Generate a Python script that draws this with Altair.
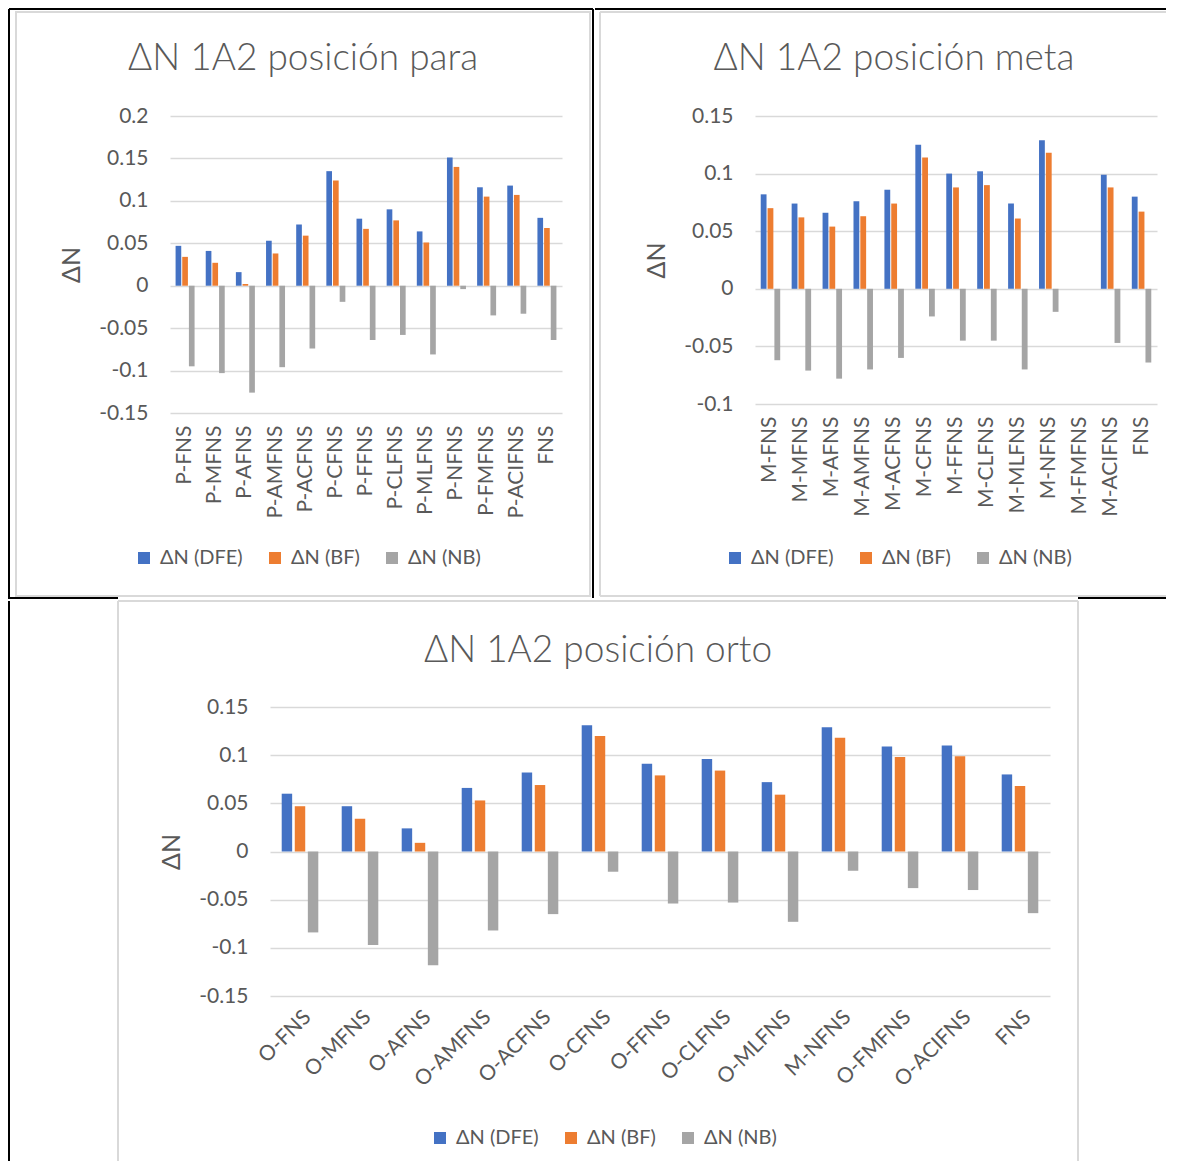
import altair as alt
import pandas as pd

series = ["ΔN (DFE)", "ΔN (BF)", "ΔN (NB)"]
colors = ["#4472C4", "#ED7D31", "#A5A5A5"]

para_cats = ["P-FNS", "P-MFNS", "P-AFNS", "P-AMFNS", "P-ACFNS", "P-CFNS", "P-FFNS",
             "P-CLFNS", "P-MLFNS", "P-NFNS", "P-FMFNS", "P-ACIFNS", "FNS"]
para_dfe = [0.047, 0.041, 0.016, 0.053, 0.072, 0.135, 0.079, 0.090, 0.064, 0.151, 0.116, 0.118, 0.080]
para_bf = [0.034, 0.027, 0.002, 0.038, 0.059, 0.124, 0.067, 0.077, 0.051, 0.140, 0.105, 0.107, 0.068]
para_nb = [-0.095, -0.103, -0.126, -0.096, -0.074, -0.019, -0.064, -0.058, -0.081, -0.004, -0.035, -0.033, -0.064]

meta_cats = ["M-FNS", "M-MFNS", "M-AFNS", "M-AMFNS", "M-ACFNS", "M-CFNS", "M-FFNS",
             "M-CLFNS", "M-MLFNS", "M-NFNS", "M-FMFNS", "M-ACIFNS", "FNS"]
meta_dfe = [0.082, 0.074, 0.066, 0.076, 0.086, 0.125, 0.100, 0.102, 0.074, 0.129, None, 0.099, 0.080]
meta_bf = [0.070, 0.062, 0.054, 0.063, 0.074, 0.114, 0.088, 0.090, 0.061, 0.118, None, 0.088, 0.067]
meta_nb = [-0.062, -0.071, -0.078, -0.070, -0.060, -0.024, -0.045, -0.045, -0.070, -0.020, None, -0.047, -0.064]

orto_cats = ["O-FNS", "O-MFNS", "O-AFNS", "O-AMFNS", "O-ACFNS", "O-CFNS", "O-FFNS",
             "O-CLFNS", "O-MLFNS", "M-NFNS", "O-FMFNS", "O-ACIFNS", "FNS"]
orto_dfe = [0.060, 0.047, 0.024, 0.066, 0.082, 0.131, 0.091, 0.096, 0.072, 0.129, 0.109, 0.110, 0.080]
orto_bf = [0.047, 0.034, 0.009, 0.053, 0.069, 0.120, 0.079, 0.084, 0.059, 0.118, 0.098, 0.099, 0.068]
orto_nb = [-0.084, -0.097, -0.118, -0.082, -0.065, -0.021, -0.054, -0.053, -0.073, -0.020, -0.038, -0.040, -0.064]

para_ticks = [-0.15, -0.1, -0.05, 0, 0.05, 0.1, 0.15, 0.2]
meta_ticks = [-0.1, -0.05, 0, 0.05, 0.1, 0.15]
orto_ticks = [-0.15, -0.1, -0.05, 0, 0.05, 0.1, 0.15]

FONT = "Lato"
TXT = "#595959"
GRID = "#D9D9D9"
BLACK = "#000000"
one = pd.DataFrame({"k": [0]})


def long_df(cats, dfe, bf, nb):
    rows = []
    for c, a, b, n in zip(cats, dfe, bf, nb):
        for s, v in zip(series, (a, b, n)):
            if v is not None:
                rows.append({"cat": c, "series": s, "value": v})
    return pd.DataFrame(rows)


def hrule(x1, x2, y, color=BLACK, w=2):
    return alt.Chart(one).mark_rule(color=color, strokeWidth=w).encode(
        x=alt.value(x1), x2=alt.value(x2), y=alt.value(y))


def vrule(x, y1, y2, color=BLACK, w=2):
    return alt.Chart(one).mark_rule(color=color, strokeWidth=w).encode(
        x=alt.value(x), y=alt.value(y1), y2=alt.value(y2))


def frame(x1, x2, y1, y2):
    return alt.Chart(one).mark_rect(filled=False, stroke=GRID, strokeWidth=2).encode(
        x=alt.value(x1), x2=alt.value(x2), y=alt.value(y1), y2=alt.value(y2))


def title_text(text, x, y):
    return alt.Chart(one).mark_text(text=text, font=FONT, fontSize=37, fontWeight=300,
                                    color=TXT, align="center", baseline="alphabetic").encode(
        x=alt.value(x), y=alt.value(y))


LABEL_EXPR = "datum.value < 0 ? '-' + format(-datum.value, '~g') : format(datum.value, '~g')"


def bars(cats, dfe, bf, nb, w, h, ydom, yticks, angle, xpad, tpad, pin, opad, lx, ly):
    df = long_df(cats, dfe, bf, nb)
    return alt.Chart(df).mark_bar().encode(
        x=alt.X("cat:N", sort=cats,
                scale=alt.Scale(domain=cats, paddingInner=pin, paddingOuter=pin / 2),
                axis=alt.Axis(title=None, labelAngle=angle, labelPadding=xpad, domain=False,
                              ticks=False, labelFontSize=21, labelColor=TXT, labelFont=FONT,
                              labelOverlap=False, labelLimit=0)),
        xOffset=alt.XOffset("series:N", sort=series,
                            scale=alt.Scale(domain=series, paddingInner=opad, paddingOuter=0)),
        y=alt.Y("value:Q", scale=alt.Scale(domain=ydom, nice=False, zero=False),
                axis=alt.Axis(title="ΔN", values=yticks, labelExpr=LABEL_EXPR, grid=True,
                              gridColor=GRID, gridWidth=1.5, domain=False, ticks=False,
                              labelPadding=22, labelFontSize=21, labelColor=TXT, labelFont=FONT,
                              titlePadding=tpad, titleFontSize=25, titleFont=FONT,
                              titleColor=TXT, titleFontWeight="normal")),
        color=alt.Color("series:N", sort=series,
                        scale=alt.Scale(domain=series, range=colors),
                        legend=alt.Legend(orient="none", legendX=lx, legendY=ly,
                                          direction="horizontal", title=None,
                                          symbolType="square", symbolSize=144,
                                          symbolStrokeWidth=0, labelFontSize=20,
                                          labelFont=FONT, labelColor=TXT,
                                          columnPadding=22, labelOffset=6)),
    ).properties(width=w, height=h)


# Panel A (para): plot area 392 x 297, origin at page (170, 116)
A = alt.layer(
    frame(-154, 420, -104, 480),
    vrule(-161, -107, 483),
    hrule(-161, 423, -107),
    vrule(423, -107, 482),
    hrule(-161, -52, 482),
    title_text("ΔN 1A2 posición para", 133, -46),
    bars(para_cats, para_dfe, para_bf, para_nb, 392, 297, [-0.15, 0.2], para_ticks,
         -90, 12, 14, 0.37, 0.15, -36, 432),
)

# Panel B (meta): plot area 402 x 288, origin at page (755, 116)
B = alt.layer(
    hrule(-155, 411, -104, GRID),
    hrule(-155, 411, 480, GRID),
    vrule(-155, -104, 480, GRID),
    hrule(-160, 411, -107),
    hrule(323, 411, 482),
    title_text("ΔN 1A2 posición meta", 139, -46),
    bars(meta_cats, meta_dfe, meta_bf, meta_nb, 402, 288, [-0.1, 0.15], meta_ticks,
         -90, 12, 14, 0.37, 0.15, -30, 432),
)

# Spacer carrying the left page border of the lower half (origin aligned with A)
S = alt.Chart(one).mark_rule(color=BLACK, strokeWidth=2).encode(
    x=alt.value(-161), y=alt.value(-106), y2=alt.value(454)
).properties(width=1, height=1)

# Panel C (orto): plot area 780 x 289, origin at page (270, 706)
C = alt.layer(
    hrule(-152, 808, -106, GRID),
    vrule(-152, -106, 454, GRID),
    vrule(808, -106, 454, GRID),
    title_text("ΔN 1A2 posición orto", 328, -45),
    bars(orto_cats, orto_dfe, orto_bf, orto_nb, 780, 289, [-0.15, 0.15], orto_ticks,
         -45, 10, 14, 0.39, 0.2, 160, 421),
)

top = alt.hconcat(A, B, spacing=0).resolve_scale(color="independent", xOffset="independent")
bottom = alt.hconcat(S, C, spacing=-54).resolve_scale(color="independent", xOffset="independent")
chart = alt.vconcat(top, bottom, spacing=0).resolve_scale(
    color="independent", xOffset="independent"
).properties(padding=0).configure_view(stroke=None)

chart.save("out.html", embed_options={"renderer": "svg", "actions": False})
